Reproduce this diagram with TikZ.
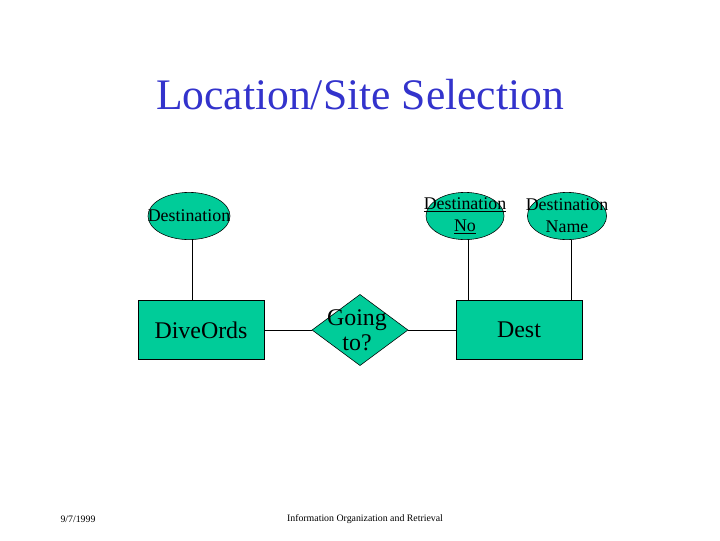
\documentclass[tikz,border=0pt]{standalone}
\usepackage{fontspec}
\setmainfont{Liberation Serif}
\usetikzlibrary{shapes.geometric}
\definecolor{ergreen}{RGB}{0,204,153}
\definecolor{titleblue}{RGB}{51,51,204}
\begin{document}
\begin{tikzpicture}[x=0.025cm,y=-0.025cm,
  attr/.style={ellipse, draw, fill=ergreen, inner sep=0pt, minimum height=1.18cm},
  entity/.style={draw, fill=ergreen, minimum width=3.15cm, minimum height=1.475cm, font=\fontsize{17}{18}\selectfont},
  rel/.style={diamond, draw, fill=ergreen, aspect=1.35, inner sep=0pt, minimum width=2.4cm, minimum height=1.78cm},
  small/.style={font=\fontsize{12.7}{15.8}\selectfont, align=center, inner sep=0pt}]
\useasboundingbox (0,0) rectangle (720,540);
\node[text=titleblue, font=\fontsize{31}{34}\selectfont] (title) at (360,95) {Location/Site Selection};

\node[entity] (dive) at (201,330) {DiveOrds};
\node[rel] (going) at (360,330) {};
\node[align=center, inner sep=0pt, font=\fontsize{17}{17.5}\selectfont] (goingtxt) at (357,330) {Going\\to?};
\node[entity] (dest) at (519,330) {Dest};

\node[attr, minimum width=2.05cm] (destA) at (189,216) {};
\node[small] (destAtxt) at (189,216) {Destination};
\node[attr, minimum width=1.95cm] (destNo) at (465,216) {};
\node[small] (destNotxt) at (465,216) {\underline{Destination}\\\underline{No}};
\node[attr, minimum width=1.98cm] (destName) at (567,216) {};
\node[small] (destNametxt) at (567,216) {Destination\\Name};

\draw (dive.east) -- (going.west);
\draw (going.east) -- (dest.west);
\draw (destA.south -| 192,0) -- (dive.north -| 192,0);
\draw (destNo.south -| 468,0) -- (dest.north -| 468,0);
\draw (destName.south -| 571,0) -- (dest.north -| 571,0);

\node[font=\fontsize{7}{8}\selectfont] (date) at (78,519) {9/7/1999};
\node[font=\fontsize{7}{8}\selectfont] (footer) at (365,519) {Information Organization and Retrieval};
\end{tikzpicture}
\end{document}
